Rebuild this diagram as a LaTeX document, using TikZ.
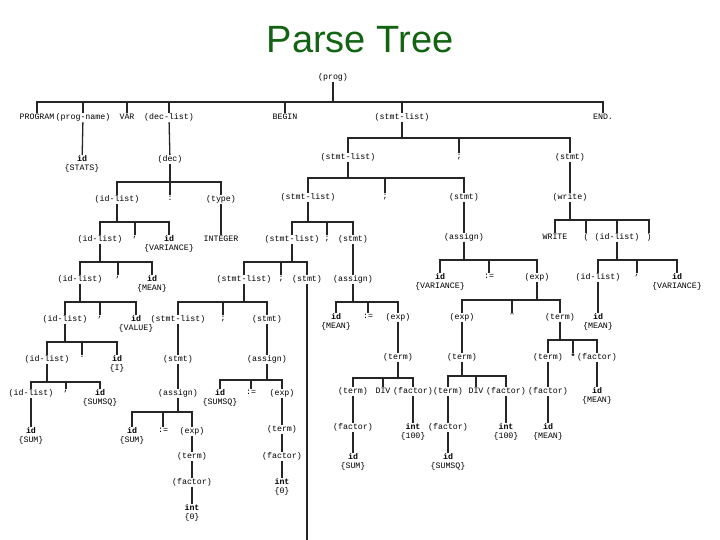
\documentclass[tikz,border=0pt]{standalone}
\usepackage{fontspec}
\setmainfont{Liberation Sans}
\newfontfamily\mymono{Liberation Mono}
\definecolor{titlegreen}{RGB}{18,100,18}
\newcommand\N[4]{\node[t] (#1) at (#2,{#3-5}) {#4};}
\newcommand\br[3]{\foreach \cc in {#3}{\draw[ln] (#1.south) -- (#1.south |- 0,#2) -| (\cc.north);}}
\tikzset{
  t/.style={anchor=north,inner sep=0.6pt,align=center,font=\mymono\fontsize{8.3}{8.8}\selectfont},
  ln/.style={line width=1.3pt,black!85}
}
\begin{document}
\begin{tikzpicture}[x=1pt,y=-1pt]
\useasboundingbox (0,0) rectangle (720,540);
\node[font=\fontsize{38}{42}\selectfont,text=titlegreen] (title) at (360,40) {Parse Tree};
\N{prog}{333}{78}{(prog)}
\N{program}{37}{118}{PROGRAM}
\N{pname}{83}{118}{(prog-name)}
\N{var}{127}{118}{VAR}
\N{dlist}{169}{118}{(dec-list)}
\N{begin}{285}{118}{BEGIN}
\N{sl1}{402}{118}{(stmt-list)}
\N{end}{603}{118}{END.}
\br{prog}{102}{program,pname,var,dlist,begin,sl1,end}
\N{idstats}{82}{160}{\textbf{id}\\\{STATS\}}
\draw[ln] (pname) -- (idstats);
\N{dec}{170}{160}{(dec)}
\draw[ln] (dlist) -- (dec);
\N{il1}{117}{200}{(id-list)}
\N{colon1}{170}{200}{:}
\N{type}{221}{200}{(type)}
\br{dec}{182}{il1,colon1,type}
\N{integer}{221}{240}{INTEGER}
\draw[ln] (type) -- (integer);
\N{il2}{100}{240}{(id-list)}
\N{cm1}{135}{240}{,}
\N{idvar1}{169}{240}{\textbf{id}\\\{VARIANCE\}}
\br{il1}{222}{il2,cm1,idvar1}
\N{il3}{80}{280}{(id-list)}
\N{cm2}{118}{280}{,}
\N{idmean1}{152}{280}{\textbf{id}\\\{MEAN\}}
\br{il2}{262}{il3,cm2,idmean1}
\N{il4}{65}{320}{(id-list)}
\N{cm3}{100}{320}{,}
\N{idvalue}{136}{320}{\textbf{id}\\\{VALUE\}}
\br{il3}{302}{il4,cm3,idvalue}
\N{il5}{47}{360}{(id-list)}
\N{cm4}{82}{360}{.}
\N{idI}{117}{360}{\textbf{id}\\\{I\}}
\br{il4}{342}{il5,cm4,idI}
\N{il6}{31}{394}{(id-list)}
\N{cm5}{66}{394}{,}
\N{idsumsq1}{100}{394}{\textbf{id}\\\{SUMSQ\}}
\br{il5}{382}{il6,cm5,idsumsq1}
\N{idsum1}{31}{432}{\textbf{id}\\\{SUM\}}
\draw[ln] (il6) -- (idsum1);
% right
\N{sl2}{348}{158}{(stmt-list)}
\N{semi1}{459}{158}{;}
\N{st1}{570}{158}{(stmt)}
\br{sl1}{138}{sl2,semi1,st1}
\N{write}{570}{198}{(write)}
\draw[ln] (st1) -- (write);
\N{wr}{555}{238}{WRITE}
\N{lp}{586}{238}{(}
\N{il7}{617}{238}{(id-list)}
\N{rp}{649}{238}{)}
\br{write}{220}{wr,lp,il7,rp}
\N{il8}{598}{278}{(id-list)}
\N{cm6}{637}{278}{,}
\N{idvar2}{677}{278}{\textbf{id}\\\{VARIANCE\}}
\br{il7}{260}{il8,cm6,idvar2}
\N{idmean2}{598}{318}{\textbf{id}\\\{MEAN\}}
\draw[ln] (il8) -- (idmean2);
\N{sl3}{308}{198}{(stmt-list)}
\N{semi2}{385}{198}{;}
\N{st2}{464}{198}{(stmt)}
\br{sl2}{178}{sl3,semi2,st2}
\N{as1}{464}{238}{(assign)}
\draw[ln] (st2) -- (as1);
\N{idvar3}{440}{278}{\textbf{id}\\\{VARIANCE\}}
\N{ass1}{489}{278}{:=}
\N{exp1}{537}{278}{(exp)}
\br{as1}{260}{idvar3,ass1,exp1}
\N{exp2}{462}{318}{(exp)}
\N{minus}{512}{318}{\char"2013}
\N{term1}{560}{318}{(term)}
\br{exp1}{300}{exp2,minus,term1}
\N{term2}{462}{358}{(term)}
\draw[ln] (exp2) -- (term2);
\N{term3}{448}{392}{(term)}
\N{div1}{476}{392}{DIV}
\N{fac1}{506}{392}{(factor)}
\br{term2}{376}{term3,div1,fac1}
\N{fac2}{448}{428}{(factor)}
\draw[ln] (term3) -- (fac2);
\N{idsumsq2}{448}{458}{\textbf{id}\\\{SUMSQ\}}
\draw[ln] (fac2) -- (idsumsq2);
\N{int1}{506}{428}{\textbf{int}\\\{100\}}
\draw[ln] (fac1) -- (int1);
\N{term4}{548}{358}{(term)}
\N{star}{573}{358}{\textbf{*}}
\N{fac3}{597}{358}{(factor)}
\br{term1}{340}{term4,star,fac3}
\N{idmean3}{597}{392}{\textbf{id}\\\{MEAN\}}
\draw[ln] (fac3) -- (idmean3);
\N{fac4}{548}{392}{(factor)}
\draw[ln] (term4) -- (fac4);
\N{idmean4}{548}{428}{\textbf{id}\\\{MEAN\}}
\draw[ln] (fac4) -- (idmean4);
\N{sl4}{292}{240}{(stmt-list)}
\N{semi3}{327}{240}{;}
\N{st3}{353}{240}{(stmt)}
\br{sl3}{222}{sl4,semi3,st3}
\N{as2}{353}{280}{(assign)}
\draw[ln] (st3) -- (as2);
\N{idmean5}{336}{318}{\textbf{id}\\\{MEAN\}}
\N{ass2}{368}{318}{:=}
\N{exp3}{398}{318}{(exp)}
\br{as2}{302}{idmean5,ass2,exp3}
\N{term5}{398}{358}{(term)}
\draw[ln] (exp3) -- (term5);
\N{term6}{353}{392}{(term)}
\N{div2}{383}{392}{DIV}
\N{fac5}{413}{392}{(factor)}
\br{term5}{378}{term6,div2,fac5}
\N{fac6}{353}{428}{(factor)}
\draw[ln] (term6) -- (fac6);
\N{idsum2}{353}{458}{\textbf{id}\\\{SUM\}}
\draw[ln] (fac6) -- (idsum2);
\N{int2}{413}{428}{\textbf{int}\\\{100\}}
\draw[ln] (fac5) -- (int2);
\N{sl5}{244}{280}{(stmt-list)}
\N{semi4}{281}{280}{;}
\N{st4}{307}{280}{(stmt)}
\br{sl4}{262}{sl5,semi4,st4}
\coordinate (bot) at (307,540);
\draw[ln] (st4) -- (bot);
\N{sl6}{178}{320}{(stmt-list)}
\N{semi5}{223}{320}{;}
\N{st5}{267}{320}{(stmt)}
\br{sl5}{302}{sl6,semi5,st5}
\N{as3}{267}{360}{(assign)}
\draw[ln] (st5) -- (as3);
\N{idsumsq3}{220}{394}{\textbf{id}\\\{SUMSQ\}}
\N{ass3}{251}{394}{:=}
\N{exp4}{282}{394}{(exp)}
\br{as3}{380}{idsumsq3,ass3,exp4}
\N{term7}{282}{430}{(term)}
\draw[ln] (exp4) -- (term7);
\N{fac7}{282}{457}{(factor)}
\draw[ln] (term7) -- (fac7);
\N{int3}{282}{483}{\textbf{int}\\\{0\}}
\draw[ln] (fac7) -- (int3);
\N{st6}{178}{360}{(stmt)}
\draw[ln] (sl6) -- (st6);
\N{as4}{178}{394}{(assign)}
\draw[ln] (st6) -- (as4);
\N{idsum3}{132}{432}{\textbf{id}\\\{SUM\}}
\N{ass4}{163}{432}{:=}
\N{exp5}{192}{432}{(exp)}
\br{as4}{412}{idsum3,ass4,exp5}
\N{term8}{192}{457}{(term)}
\draw[ln] (exp5) -- (term8);
\N{fac8}{192}{483}{(factor)}
\draw[ln] (term8) -- (fac8);
\N{int4}{192}{509}{\textbf{int}\\\{0\}}
\draw[ln] (fac8) -- (int4);
\end{tikzpicture}
\end{document}
